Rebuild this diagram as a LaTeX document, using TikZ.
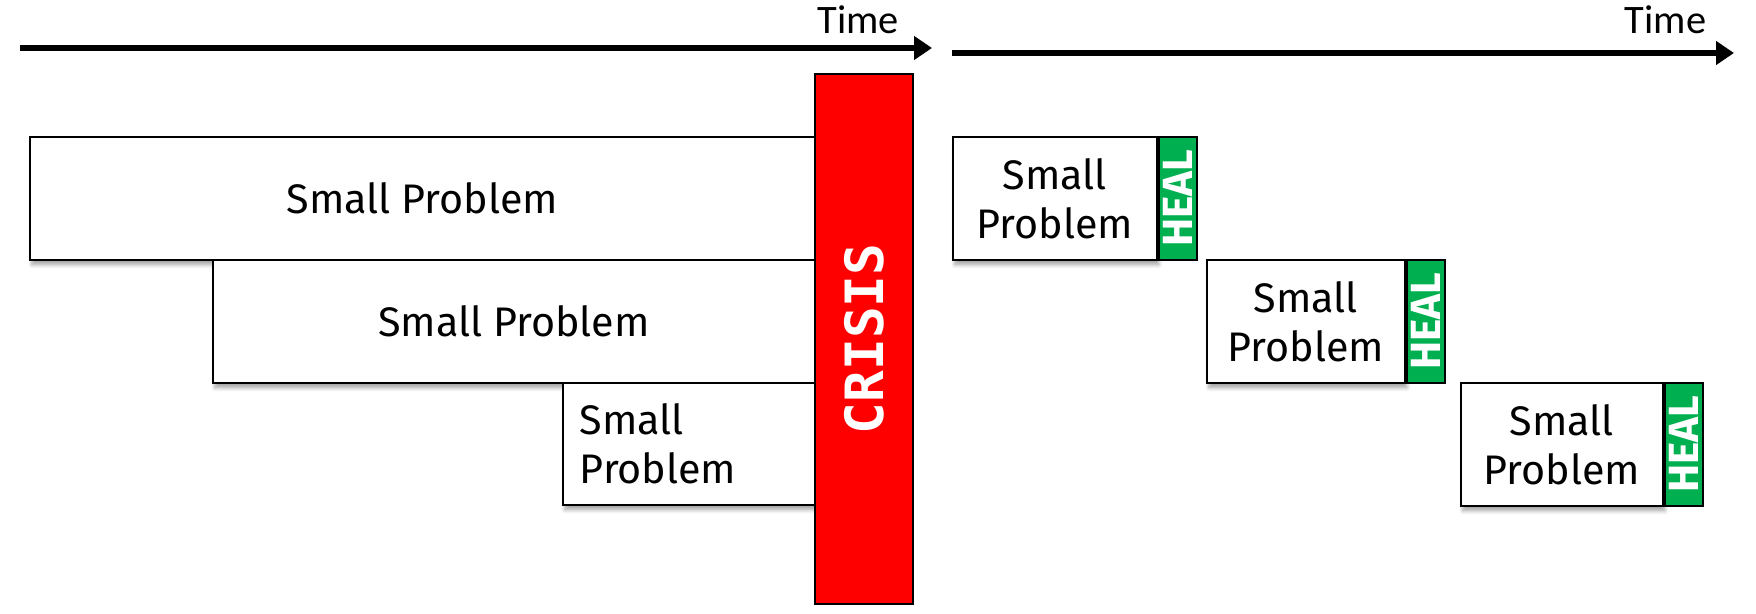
\documentclass[tikz,border=0pt]{standalone}
\usepackage{fontspec}
\setmainfont{Fira Sans}
\newfontfamily\timefont{Carlito}
\newfontfamily\crisisfont{DejaVu Sans Mono}
\usepackage{tikz}
\usetikzlibrary{arrows.meta, positioning, shadows.blur}

\definecolor{crisisred}{HTML}{FF0000}
\definecolor{healgreen}{HTML}{00B050}

\begin{document}
\begin{tikzpicture}[
                prob/.style={draw, line width=1pt, fill=white, anchor=north west, inner sep=0pt,
                    font=\fontsize{23.5}{28}\selectfont, align=center, minimum height=2.46cm,
                    blur shadow={shadow xshift=0.04cm, shadow yshift=-0.1cm, shadow blur steps=6, shadow opacity=35}},
                heal/.style={draw, line width=1pt, fill=healgreen, text=white, inner sep=0pt,
                    font=\bfseries\fontsize{24}{28}\selectfont, rotate=90,
                    minimum width=2.46cm, minimum height=0.76cm},
                timeline/.style={line width=3.4pt, -{Triangle[length=0.36cm, width=0.46cm]}},
                timelbl/.style={anchor=east, font=\timefont\fontsize{23}{26}\selectfont}]
                \useasboundingbox (0,0) rectangle (35.12,-12.28);
                % time axes
                \coordinate (l0) at (0.4,-0.96);
                \coordinate (l1) at (18.64,-0.96);
                \coordinate (r0) at (19.04,-1.06);
                \coordinate (r1) at (34.68,-1.06);
                \draw[timeline] (l0) -- (l1);
                \draw[timeline] (r0) -- (r1);
                \node[timelbl] (tl) at (18.1,-0.4) {Time};
                \node[timelbl] (tr) at (34.25,-0.4) {Time};
                % left: problems pile up
                \node[prob, minimum width=15.7cm] (p1) at (0.58,-2.72) {Small Problem};
                \node[prob, minimum width=12.04cm] (p2) at (4.24,-5.18) {Small Problem};
                \node[prob, text width=4.36cm, inner xsep=0.34cm, align=left, minimum height=2.44cm]
                    (p3) at (11.24,-7.64) {Small\\Problem};
                \node[draw, line width=1pt, fill=crisisred, anchor=north west, minimum width=1.96cm,
                    minimum height=10.6cm, inner sep=0pt] (crisis) at (16.28,-1.46) {};
                \node[rotate=90, text=white, font=\crisisfont\bfseries\fontsize{30}{30}\selectfont]
                    (crisislbl) at (crisis.center) {CRISIS};
                % right: problems healed one by one
                \node[prob, minimum width=4.08cm] (q1) at (19.04,-2.72) {Small\\Problem};
                \node[prob, minimum width=3.96cm] (q2) at (24.12,-5.18) {Small\\Problem};
                \node[prob, minimum width=4.04cm] (q3) at (29.2,-7.64) {Small\\Problem};
                \node[heal, anchor=north] (h1) at (q1.east) {HEAL};
                \node[heal, anchor=north] (h2) at (q2.east) {HEAL};
                \node[heal, anchor=north] (h3) at (q3.east) {HEAL};
            \end{tikzpicture}
\end{document}
